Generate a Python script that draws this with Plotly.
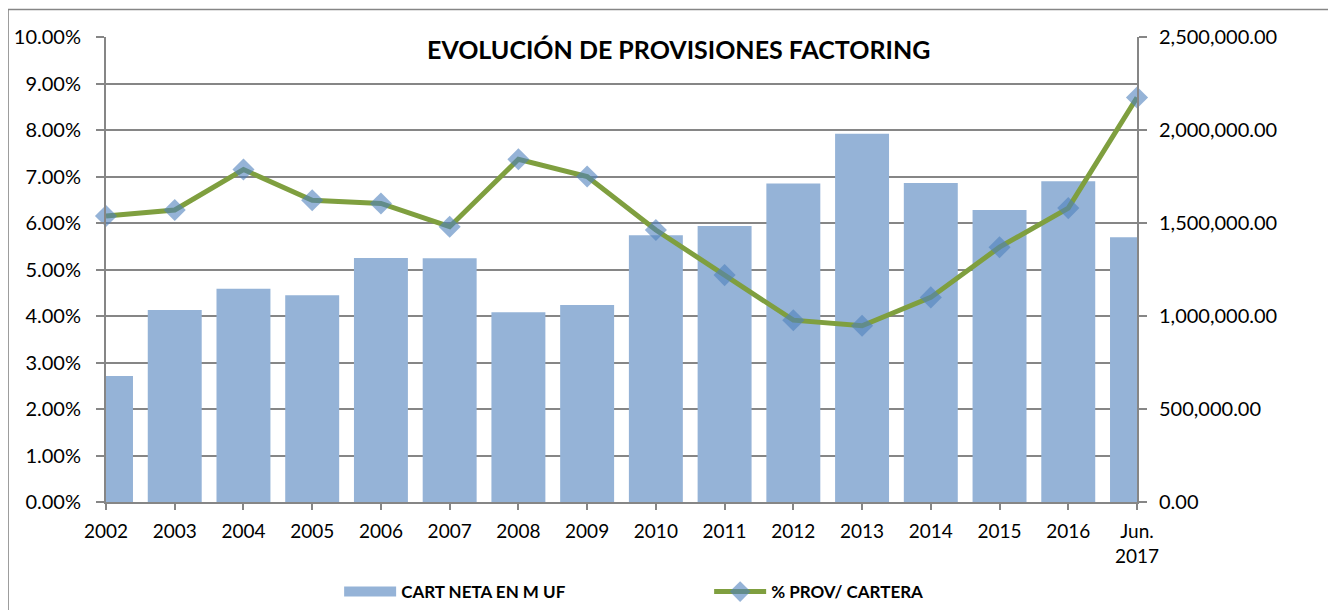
import plotly.graph_objects as go

categories = ["2002", "2003", "2004", "2005", "2006", "2007", "2008", "2009",
              "2010", "2011", "2012", "2013", "2014", "2015", "2016", "Jun.<br>2017"]
cartera = [677000, 1032000, 1147000, 1111000, 1312000, 1310000, 1020000, 1059000,
           1434000, 1484000, 1713000, 1980000, 1715000, 1570000, 1724000, 1423000]
prov_pct = [0.0615, 0.0628, 0.0715, 0.0649, 0.0642, 0.0592, 0.0737, 0.0700,
            0.0585, 0.0488, 0.0391, 0.0379, 0.0440, 0.0548, 0.0632, 0.0870]

FONT = "Lato"
GRID = "#868686"
BAR = "#95B3D7"

fig = go.Figure()
fig.add_trace(go.Bar(
    x=categories, y=cartera, name="CART NETA EN M UF",
    marker=dict(color=BAR, line=dict(width=0)),
    width=0.785, yaxis="y", showlegend=False,
))
# legend entry for the bars (wide swatch like the original)
fig.add_trace(go.Scatter(
    x=[None], y=[None], name="CART NETA EN M UF", mode="lines",
    line=dict(color=BAR, width=14), yaxis="y",
))
fig.add_trace(go.Scatter(
    x=categories, y=prov_pct, name="% PROV/ CARTERA", yaxis="y2",
    mode="lines+markers",
    line=dict(color="#7F9F3F", width=5),
    marker=dict(symbol="diamond", size=17, color="rgba(79,129,189,0.6)",
                line=dict(width=0)),
    cliponaxis=False,
))

fig.update_layout(
    width=1336, height=610,
    margin=dict(l=98, r=207, t=29, b=116, autoexpand=False),
    paper_bgcolor="white", plot_bgcolor="white",
    font=dict(family=FONT, size=16, color="black"),
    showlegend=True,
    title=dict(text="<b>EVOLUCIÓN DE PROVISIONES FACTORING</b>",
               x=0.502, xanchor="center", y=1 - 42 / 610, yanchor="middle",
               yref="container", font=dict(family=FONT, size=25, color="black")),
    legend=dict(orientation="h", x=0.585, xanchor="center", y=-0.1935, yanchor="middle",
                font=dict(family=FONT, size=17, color="black", weight="bold"),
                itemwidth=52, entrywidth=303, bgcolor="rgba(0,0,0,0)"),
    xaxis=dict(
        type="category", range=[0, 15], showline=True, linecolor=GRID, linewidth=2,
        ticks="outside", ticklen=6, tickcolor=GRID, tickwidth=2,
        tickson="labels", showgrid=False, tickfont=dict(size=19), automargin=False,
        ticklabelstandoff=5,
    ),
    yaxis=dict(
        side="right", range=[0, 2500000], dtick=500000, tickformat=",.2f",
        showline=True, linecolor=GRID, linewidth=2, ticks="outside", ticklen=8,
        tickcolor=GRID, tickwidth=2, showgrid=False, zeroline=False,
        tickfont=dict(size=20), ticklabelstandoff=8, automargin=False,
    ),
    yaxis2=dict(
        side="left", overlaying="y", range=[0, 0.10], dtick=0.01, tickformat=".2%",
        showline=True, linecolor=GRID, linewidth=2, ticks="outside", ticklen=8,
        tickcolor=GRID, tickwidth=2, showgrid=True, gridcolor=GRID, gridwidth=2,
        zeroline=False, tickfont=dict(size=20), ticklabelstandoff=11, automargin=False,
    ),
    shapes=[dict(type="rect", xref="paper", yref="paper",
                 x0=-0.095, x1=1.197, y0=-0.26, y1=1.059,
                 line=dict(color=GRID, width=1.5), layer="below")],
)

fig.write_html("out.html")
